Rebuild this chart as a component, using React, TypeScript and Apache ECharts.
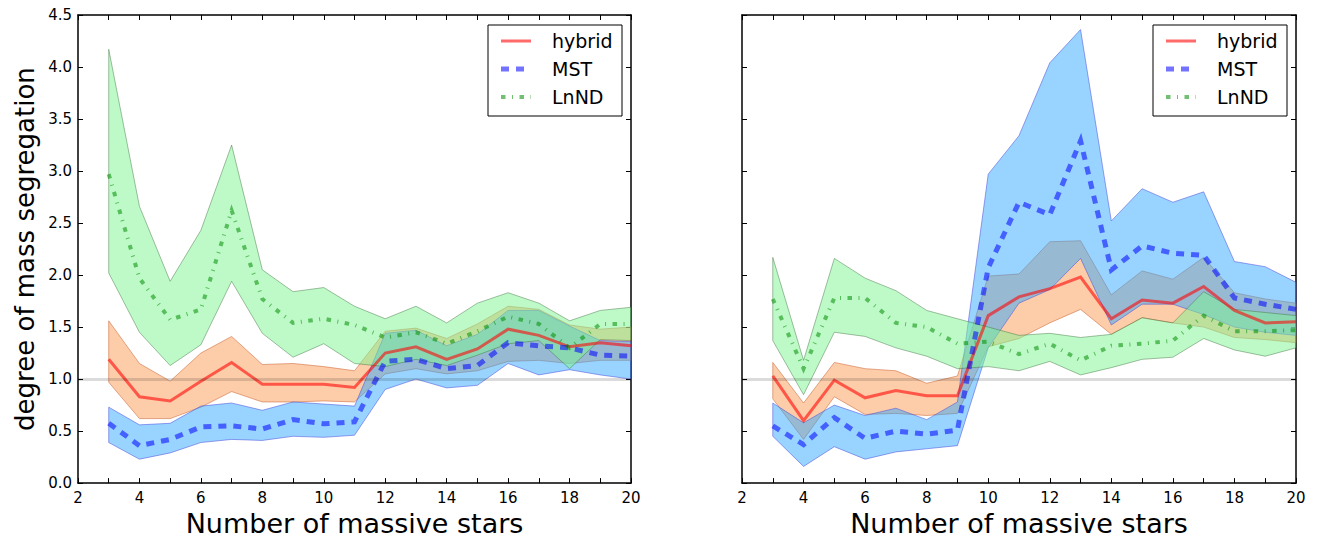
import React, { useEffect, useRef } from "react";
import * as echarts from "echarts";

// Number of massive stars
const xs = [3, 4, 5, 6, 7, 8, 9, 10, 11, 12, 13, 14, 15, 16, 17, 18, 19, 20];

// ---- Left panel ----
const hybridL = [1.19, 0.83, 0.79, 0.98, 1.16, 0.95, 0.95, 0.95, 0.92, 1.25, 1.31, 1.19, 1.29, 1.48, 1.42, 1.31, 1.35, 1.32];
const hybridLUp = [1.56, 1.15, 0.98, 1.25, 1.41, 1.14, 1.15, 1.12, 1.08, 1.46, 1.49, 1.39, 1.53, 1.70, 1.67, 1.52, 1.48, 1.50];
const hybridLLo = [0.97, 0.62, 0.62, 0.73, 0.88, 0.78, 0.78, 0.79, 0.78, 1.05, 1.10, 1.05, 1.08, 1.17, 1.18, 1.15, 1.18, 1.18];
const mstL = [0.575, 0.36, 0.42, 0.54, 0.55, 0.52, 0.61, 0.57, 0.59, 1.17, 1.19, 1.10, 1.13, 1.35, 1.32, 1.30, 1.23, 1.22];
const mstLUp = [0.73, 0.56, 0.575, 0.74, 0.77, 0.70, 0.78, 0.76, 0.74, 1.44, 1.47, 1.32, 1.43, 1.66, 1.66, 1.51, 1.37, 1.36];
const mstLLo = [0.39, 0.23, 0.29, 0.39, 0.42, 0.41, 0.45, 0.44, 0.46, 0.90, 1.00, 0.915, 0.94, 1.15, 1.04, 1.09, 1.04, 1.00];
const lnndL = [2.97, 1.97, 1.57, 1.67, 2.62, 1.77, 1.54, 1.58, 1.52, 1.40, 1.45, 1.34, 1.46, 1.60, 1.53, 1.30, 1.53, 1.53];
const lnndLUp = [4.17, 2.66, 1.94, 2.43, 3.25, 2.05, 1.84, 1.88, 1.70, 1.58, 1.70, 1.54, 1.73, 1.83, 1.73, 1.56, 1.66, 1.69];
const lnndLLo = [2.02, 1.45, 1.13, 1.33, 1.94, 1.44, 1.21, 1.34, 1.15, 1.12, 1.19, 1.13, 1.23, 1.34, 1.37, 1.10, 1.38, 1.37];

// ---- Right panel ----
const hybridR = [1.03, 0.60, 0.99, 0.82, 0.89, 0.84, 0.84, 1.61, 1.79, 1.87, 1.98, 1.58, 1.76, 1.73, 1.89, 1.66, 1.54, 1.55];
const hybridRUp = [1.16, 0.77, 1.16, 1.10, 1.08, 0.96, 1.03, 1.99, 2.01, 2.32, 2.33, 1.81, 2.04, 1.96, 2.17, 1.83, 1.77, 1.73];
const hybridRLo = [0.81, 0.42, 0.83, 0.66, 0.67, 0.65, 0.67, 1.31, 1.39, 1.54, 1.67, 1.43, 1.59, 1.54, 1.50, 1.40, 1.38, 1.35];
const mstR = [0.55, 0.37, 0.63, 0.43, 0.50, 0.47, 0.51, 2.07, 2.70, 2.58, 3.29, 2.05, 2.28, 2.21, 2.19, 1.78, 1.72, 1.67];
const mstRUp = [0.77, 0.58, 0.75, 0.65, 0.72, 0.61, 0.78, 2.97, 3.34, 4.04, 4.36, 2.52, 2.83, 2.70, 2.80, 2.13, 2.08, 1.93];
const mstRLo = [0.45, 0.16, 0.35, 0.23, 0.30, 0.33, 0.36, 1.30, 1.73, 1.86, 2.16, 1.52, 1.72, 1.72, 1.62, 1.50, 1.45, 1.42];
const lnndR = [1.77, 1.10, 1.78, 1.78, 1.54, 1.50, 1.34, 1.36, 1.24, 1.34, 1.18, 1.32, 1.34, 1.37, 1.61, 1.46, 1.46, 1.47];
const lnndRUp = [2.17, 1.18, 2.16, 1.97, 1.85, 1.66, 1.58, 1.50, 1.42, 1.44, 1.40, 1.43, 1.59, 1.54, 1.84, 1.67, 1.64, 1.61];
const lnndRLo = [1.37, 0.85, 1.45, 1.41, 1.30, 1.22, 1.10, 1.12, 1.08, 1.17, 1.04, 1.11, 1.19, 1.21, 1.39, 1.28, 1.22, 1.30];

const legendNames = ["hybrid", "MST", "LnND"];
const xTitle = "Number of massive stars";
const yTitle = "degree of mass segregation";

const FONT = "DejaVu Sans";

const C = {
  hybridFill: "rgba(250,135,50,0.42)",
  hybridEdge: "rgba(200,90,40,0.5)",
  hybridLine: "rgba(255,0,0,0.58)",
  mstFill: "rgba(40,165,255,0.48)",
  mstEdge: "rgba(70,70,220,0.5)",
  mstLine: "rgba(0,0,255,0.55)",
  lnndFill: "rgba(125,245,145,0.5)",
  lnndEdge: "rgba(60,110,60,0.45)",
  lnndLine: "rgba(0,140,0,0.55)",
};

const DASH_MST = [8, 7];
const DASH_LNND = [4.5, 6.5, 1, 6.5];

function pairs(v: number[]) {
  return xs.map((x, i) => [x, v[i]]);
}

function band(g: number, lo: number[], up: number[], fill: string, edge: string) {
  return {
    type: "custom",
    xAxisIndex: g * 2,
    yAxisIndex: g * 2,
    silent: true,
    z: 2,
    data: xs.map((x, i) => [x, lo[i], up[i]]),
    encode: { x: 0, y: [1, 2] },
    renderItem: (params: any, api: any) => {
      if (params.dataIndex !== 0) return null;
      const pts: number[][] = [];
      for (let i = 0; i < xs.length; i++) pts.push(api.coord([xs[i], up[i]]));
      for (let i = xs.length - 1; i >= 0; i--) pts.push(api.coord([xs[i], lo[i]]));
      return {
        type: "polygon",
        shape: { points: pts },
        style: { fill, stroke: edge, lineWidth: 1 },
      };
    },
  };
}

function meanLine(g: number, v: number[], color: string, width: number, dash: any) {
  return {
    type: "line",
    xAxisIndex: g * 2,
    yAxisIndex: g * 2,
    data: pairs(v),
    symbol: "none",
    silent: true,
    z: 4,
    lineStyle: { color, width, type: dash, cap: "butt", join: "miter" },
  };
}

function refLine(g: number) {
  return {
    type: "line",
    xAxisIndex: g * 2,
    yAxisIndex: g * 2,
    data: [],
    symbol: "none",
    silent: true,
    z: 1,
    markLine: {
      silent: true,
      symbol: ["none", "none"],
      label: { show: false },
      lineStyle: { color: "rgba(0,0,0,0.14)", width: 3, type: "solid" },
      data: [{ yAxis: 1 }],
    },
  };
}

const grids = [
  { left: 78, top: 15, width: 553, height: 472 },
  { left: 742, top: 15, width: 554, height: 472 },
];

const axisLineStyle = { show: true, onZero: false, lineStyle: { color: "#000", width: 1.5 } };
const tickStyle = { show: true, inside: true, length: 5, lineStyle: { color: "#000", width: 1 } };

function xAxes(g: number) {
  return [
    {
      gridIndex: g,
      type: "value",
      position: "bottom",
      min: 2,
      max: 20,
      interval: 1,
      axisLine: axisLineStyle,
      axisTick: tickStyle,
      splitLine: { show: false },
      axisLabel: {
        color: "#000",
        fontSize: 15,
        fontFamily: FONT,
        margin: 7,
        formatter: (v: number) => (v % 2 === 0 ? String(v) : ""),
      },
      name: xTitle,
      nameLocation: "middle",
      nameGap: 25,
      nameTextStyle: { color: "#000", fontSize: 27, fontFamily: FONT },
    },
    {
      gridIndex: g,
      type: "value",
      position: "top",
      min: 2,
      max: 20,
      interval: 1,
      axisLine: axisLineStyle,
      axisTick: tickStyle,
      splitLine: { show: false },
      axisLabel: { show: false },
    },
  ];
}

function yAxes(g: number) {
  return [
    {
      gridIndex: g,
      type: "value",
      position: "left",
      min: 0,
      max: 4.5,
      interval: 0.5,
      axisLine: axisLineStyle,
      axisTick: tickStyle,
      splitLine: { show: false },
      axisLabel: {
        show: g === 0,
        color: "#000",
        fontSize: 15,
        fontFamily: FONT,
        margin: 6,
        formatter: (v: number) => v.toFixed(1),
      },
      name: g === 0 ? yTitle : "",
      nameLocation: "middle",
      nameGap: 40,
      nameRotate: 90,
      nameTextStyle: { color: "#000", fontSize: 26, fontFamily: FONT },
    },
    {
      gridIndex: g,
      type: "value",
      position: "right",
      min: 0,
      max: 4.5,
      interval: 0.5,
      axisLine: axisLineStyle,
      axisTick: tickStyle,
      splitLine: { show: false },
      axisLabel: { show: false },
    },
  ];
}

function legend(x0: number, y0: number, w: number, h: number, sx: number, tx: number) {
  const rows = [
    { color: C.hybridLine, dash: undefined, width: 3 },
    { color: C.mstLine, dash: DASH_MST, width: 5 },
    { color: C.lnndLine, dash: DASH_LNND, width: 4 },
  ];
  const els: any[] = [
    {
      type: "rect",
      shape: { x: x0, y: y0, width: w, height: h },
      style: { fill: "#fff", stroke: "#000", lineWidth: 1 },
      z: 100,
    },
  ];
  rows.forEach((r, i) => {
    const y = y0 + 16 + i * 28;
    els.push({
      type: "line",
      shape: { x1: sx, y1: y, x2: sx + 30, y2: y },
      style: { stroke: r.color, lineWidth: r.width, lineDash: r.dash, lineCap: "butt" },
      z: 101,
    });
    els.push({
      type: "text",
      x: tx,
      y: y,
      style: {
        text: legendNames[i],
        fill: "#000",
        fontSize: 19,
        fontFamily: FONT,
        verticalAlign: "middle",
        align: "left",
      },
      z: 101,
    });
  });
  return els;
}

function panelSeries(g: number, hy: number[], hyU: number[], hyL: number[], ms: number[], msU: number[], msL: number[], ln: number[], lnU: number[], lnL: number[]) {
  return [
    refLine(g),
    band(g, hyL, hyU, C.hybridFill, C.hybridEdge),
    band(g, msL, msU, C.mstFill, C.mstEdge),
    band(g, lnL, lnU, C.lnndFill, C.lnndEdge),
    meanLine(g, hy, C.hybridLine, 3, "solid"),
    meanLine(g, ms, C.mstLine, 5, DASH_MST),
    meanLine(g, ln, C.lnndLine, 4, DASH_LNND),
  ];
}

export default function App() {
  const ref = useRef<HTMLDivElement>(null);
  useEffect(() => {
    const chart = echarts.init(ref.current!, undefined, { renderer: "svg" });
    const option: any = {
      animation: false,
      backgroundColor: "#fff",
      textStyle: { fontFamily: FONT },
      grid: grids,
      xAxis: [...xAxes(0), ...xAxes(1)],
      yAxis: [...yAxes(0), ...yAxes(1)],
      series: [
        ...panelSeries(0, hybridL, hybridLUp, hybridLLo, mstL, mstLUp, mstLLo, lnndL, lnndLUp, lnndLLo),
        ...panelSeries(1, hybridR, hybridRUp, hybridRLo, mstR, mstRUp, mstRLo, lnndR, lnndRUp, lnndRLo),
      ],
      graphic: [
        ...legend(488, 25, 134, 91, 501, 552),
        ...legend(1153, 25, 134, 91, 1166, 1217),
      ],
    };
    chart.setOption(option);
    return () => chart.dispose();
  }, []);
  return (
    <div
      ref={ref}
      style={{ position: "absolute", left: 0, top: 0, width: 1322, height: 542 }}
    />
  );
}
